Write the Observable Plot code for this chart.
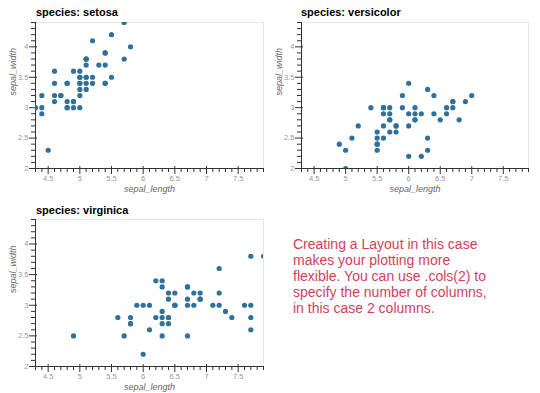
<!DOCTYPE html>
<html><head><meta charset="utf-8">
<script src="https://cdn.jsdelivr.net/npm/d3@7"></script>
<script src="https://cdn.jsdelivr.net/npm/@observablehq/plot@0.6"></script>
<style>
body{margin:0;background:#fff;width:540px;height:393px;overflow:hidden;position:relative;font-family:"Liberation Sans",Arial,Helvetica,sans-serif;}
.panel{position:absolute;}
.title{position:absolute;font-weight:bold;font-size:11px;line-height:11px;color:#000;white-space:nowrap;}
.note{position:absolute;left:293px;top:236px;font-size:14px;line-height:16px;color:#d23f5c;white-space:nowrap;}
</style></head><body>
<script>
const setosaLength = [5.1,4.9,4.7,4.6,5.0,5.4,4.6,5.0,4.4,4.9,5.4,4.8,4.8,4.3,5.8,5.7,5.4,5.1,5.7,5.1,5.4,5.1,4.6,5.1,4.8,5.0,5.0,5.2,5.2,4.7,4.8,5.4,5.2,5.5,4.9,5.0,5.5,4.9,4.4,5.1,5.0,4.5,4.4,5.0,5.1,4.8,5.1,4.6,5.3,5.0];
const setosaWidth  = [3.5,3.0,3.2,3.1,3.6,3.9,3.4,3.4,2.9,3.1,3.7,3.4,3.0,3.0,4.0,4.4,3.9,3.5,3.8,3.8,3.4,3.7,3.6,3.3,3.4,3.0,3.4,3.5,3.4,3.2,3.1,3.4,4.1,4.2,3.1,3.2,3.5,3.6,3.0,3.4,3.5,2.3,3.2,3.5,3.8,3.0,3.8,3.2,3.7,3.3];
const versicolorLength = [7.0,6.4,6.9,5.5,6.5,5.7,6.3,4.9,6.6,5.2,5.0,5.9,6.0,6.1,5.6,6.7,5.6,5.8,6.2,5.6,5.9,6.1,6.3,6.1,6.4,6.6,6.8,6.7,6.0,5.7,5.5,5.5,5.8,6.0,5.4,6.0,6.7,6.3,5.6,5.5,5.5,6.1,5.8,5.0,5.6,5.7,5.7,6.2,5.1,5.7];
const versicolorWidth  = [3.2,3.2,3.1,2.3,2.8,2.8,3.3,2.4,2.9,2.7,2.0,3.0,2.2,2.9,2.9,3.1,3.0,2.7,2.2,2.5,3.2,2.8,2.5,2.8,2.9,3.0,2.8,3.0,2.9,2.6,2.4,2.4,2.7,2.7,3.0,3.4,3.1,2.3,3.0,2.5,2.6,3.0,2.6,2.3,2.7,3.0,2.9,2.9,2.5,2.8];
const virginicaLength = [6.3,5.8,7.1,6.3,6.5,7.6,4.9,7.3,6.7,7.2,6.5,6.4,6.8,5.7,5.8,6.4,6.5,7.7,7.7,6.0,6.9,5.6,7.7,6.3,6.7,7.2,6.2,6.1,6.4,7.2,7.4,7.9,6.4,6.3,6.1,7.7,6.3,6.4,6.0,6.9,6.7,6.9,5.8,6.8,6.7,6.7,6.3,6.5,6.2,5.9];
const virginicaWidth  = [3.3,2.7,3.0,2.9,3.0,3.0,2.5,2.9,2.5,3.6,3.2,2.7,3.0,2.5,2.8,3.2,3.0,3.8,2.6,2.2,3.2,2.8,2.8,2.7,3.3,3.2,2.8,3.0,2.8,3.0,2.8,3.8,2.8,2.8,2.6,3.0,3.4,3.1,3.0,3.1,3.1,3.1,2.7,3.2,3.3,3.0,2.5,3.0,3.4,3.0];

const xTicks = [4.5,5,5.5,6,6.5,7,7.5];
const yTicks = [2,2.5,3,3.5,4];
const xMinorTicks = [4.3,4.4,4.6,4.7,4.8,4.9,5.1,5.2,5.3,5.4,5.6,5.7,5.8,5.9,6.1,6.2,6.3,6.4,6.6,6.7,6.8,6.9,7.1,7.2,7.3,7.4,7.6,7.7,7.8,7.9];
const yMinorTicks = [2.1,2.2,2.3,2.4,2.6,2.7,2.8,2.9,3.1,3.2,3.3,3.4,3.6,3.7,3.8,3.9,4.1,4.2,4.3,4.4];
const xDomain = [4.3,7.9];
const yDomain = [2,4.4];
const xLabel = "sepal_length";
const yLabel = "sepal_width";
const note = ["Creating a Layout in this case","makes your plotting more","flexible. You can use .cols(2) to","specify the number of columns,","in this case 2 columns."];

const panels = [
  {name:"setosa", len:setosaLength, wid:setosaWidth, left:0, top:0, ml:35, mr:7, mt:22, mb:32, tx:36, ty:7.4},
  {name:"versicolor", len:versicolorLength, wid:versicolorWidth, left:270, top:0, ml:31, mr:12, mt:22, mb:32, tx:301, ty:7.4},
  {name:"virginica", len:virginicaLength, wid:virginicaWidth, left:0, top:198, ml:35, mr:7, mt:21, mb:32, tx:36, ty:205.4}
];

const dotColor = "#30719c";
const axisColor = "#333";
const labelColor = "#999";

for (const p of panels) {
  const data = p.len.map((x,i)=>({sepal_length:x, sepal_width:p.wid[i]}));
  const svg = Plot.plot({
    width:270, height:200,
    marginLeft:p.ml, marginRight:p.mr, marginTop:p.mt, marginBottom:p.mb,
    style:{fontFamily:'"Liberation Sans",Arial,Helvetica,sans-serif', background:"transparent", overflow:"visible"},
    x:{domain:xDomain},
    y:{domain:yDomain},
    marks:[
      Plot.frame({stroke:"#e5e5e5"}),
      Plot.axisX({ticks:xMinorTicks, tickSize:4, text:null, label:null, stroke:axisColor}),
      Plot.axisX({ticks:xTicks, tickSize:8, dy:-2, text:null, label:null, stroke:axisColor}),
      Plot.axisX({ticks:xTicks, tickSize:0, tickPadding:7, fill:labelColor, fontSize:7.5, tickFormat:d=>`${d}`, label:null}),
      Plot.axisY({ticks:yMinorTicks, tickSize:4, text:null, label:null, stroke:axisColor}),
      Plot.axisY({ticks:yTicks, tickSize:8, dx:2, text:null, label:null, stroke:axisColor}),
      Plot.axisY({ticks:yTicks, tickSize:0, tickPadding:7, fill:labelColor, fontSize:7.5, tickFormat:d=>`${d}`, label:null}),
      Plot.ruleY([yDomain[0]], {stroke:axisColor}),
      Plot.ruleX([xDomain[0]], {stroke:axisColor}),
      Plot.dot(data, {x:"sepal_length", y:"sepal_width", r:2.6, fill:dotColor, stroke:"none", clip:true}),
      Plot.text([xLabel], {frameAnchor:"bottom", dy:23, fontStyle:"italic", fontSize:9, fill:"#666"}),
      Plot.text([yLabel], {frameAnchor:"left", dx:-22, rotate:-90, fontStyle:"italic", fontSize:9, fill:"#666"})
    ]
  });
  const wrap = document.createElement("div");
  wrap.className = "panel";
  wrap.style.left = p.left + "px";
  wrap.style.top = p.top + "px";
  wrap.appendChild(svg);
  document.body.appendChild(wrap);
  const t = document.createElement("div");
  t.className = "title";
  t.style.left = p.tx + "px";
  t.style.top = p.ty + "px";
  t.textContent = "species: " + p.name;
  document.body.appendChild(t);
}
const n = document.createElement("div");
n.className = "note";
n.innerHTML = note.join("<br>");
document.body.appendChild(n);
</script>
</body></html>
